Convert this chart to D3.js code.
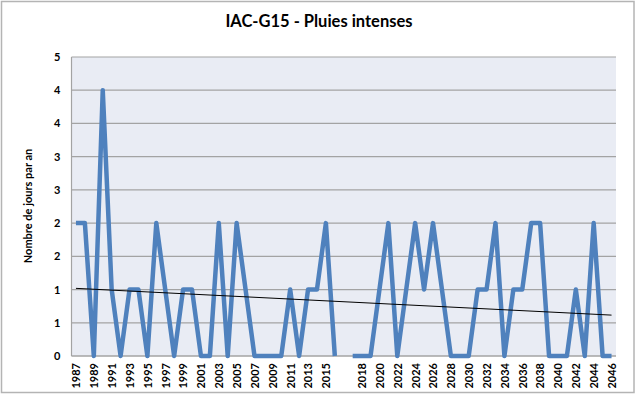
<!DOCTYPE html>
<html>
<head>
<meta charset="utf-8">
<script src="https://cdn.jsdelivr.net/npm/d3@7"></script>
<style>
  body { margin: 0; background: #fff; }
  text { font-family: Lato, "Open Sans", sans-serif; fill: #000; }
</style>
</head>
<body>
<div id="chart"></div>
<script>
// --- data ---
// categories as plotted (one blank slot between 2016 and 2017)
const years = [
  '1987','1988','1989','1990','1991','1992','1993','1994','1995','1996',
  '1997','1998','1999','2000','2001','2002','2003','2004','2005','2006',
  '2007','2008','2009','2010','2011','2012','2013','2014','2015','2016',
  '',
  '2017','2018','2019','2020','2021','2022','2023','2024','2025','2026',
  '2027','2028','2029','2030','2031','2032','2033','2034','2035','2036',
  '2037','2038','2039','2040','2041','2042','2043','2044','2045','2046'
];
const values = [
  2, 2, 0, 4, 1, 0, 1, 1, 0, 2,
  1, 0, 1, 1, 0, 0, 2, 0, 2, 1,
  0, 0, 0, 0, 1, 0, 1, 1, 2, 0,
  null,
  0, 0, 0, 1, 2, 0, 1, 2, 1, 2,
  1, 0, 0, 0, 1, 1, 2, 0, 1, 1,
  2, 2, 0, 0, 0, 1, 0, 2, 0, 0
];
const yTicks = [0, 0.5, 1, 1.5, 2, 2.5, 3, 3.5, 4, 4.5];
const yTickLabels = ['0', '1', '1', '2', '2', '3', '3', '4', '4', '5'];

const title = 'IAC-G15 - Pluies intenses';
const yTitle = 'Nombre de jours par an';

// --- sizing ---
const W = 640, H = 397;
const plot = { left: 71.5, right: 616, top: 57, bottom: 356 };

const svg = d3.select('#chart').append('svg')
  .attr('width', W)
  .attr('height', H);

// outer frame
svg.append('rect')
  .attr('x', 1.5).attr('y', 1.5)
  .attr('width', 632.5).attr('height', 391)
  .attr('fill', '#fff')
  .attr('stroke', '#b4b4b4')
  .attr('stroke-width', 1.5);

// --- scales ---
const idx = d3.range(years.length);
const x = d3.scalePoint()
  .domain(idx)
  .range([plot.left, plot.right])
  .padding(0.5);

const y = d3.scaleLinear()
  .domain([0, 4.5])
  .range([plot.bottom, plot.top]);

// plot background
svg.append('rect')
  .attr('x', plot.left).attr('y', plot.top)
  .attr('width', plot.right - plot.left)
  .attr('height', plot.bottom - plot.top)
  .attr('fill', '#e9ecf4');

// gridlines
svg.append('g')
  .attr('class', 'grid')
  .selectAll('line')
  .data(yTicks)
  .enter().append('line')
  .attr('x1', plot.left).attr('x2', plot.right)
  .attr('y1', d => y(d)).attr('y2', d => y(d))
  .attr('stroke', '#a3a3a3')
  .attr('stroke-width', 1.2);

// axis lines
svg.append('line')
  .attr('x1', plot.left).attr('x2', plot.left)
  .attr('y1', plot.top).attr('y2', plot.bottom)
  .attr('stroke', '#a3a3a3').attr('stroke-width', 1.2);
svg.append('line')
  .attr('x1', plot.left).attr('x2', plot.right)
  .attr('y1', plot.bottom).attr('y2', plot.bottom)
  .attr('stroke', '#a3a3a3').attr('stroke-width', 1.2);

// y axis labels
const yAxis = d3.axisLeft(y)
  .tickValues(yTicks)
  .tickSize(0)
  .tickPadding(11)
  .tickFormat((d, i) => yTickLabels[i]);

svg.append('g')
  .attr('class', 'axis axis--y')
  .attr('transform', `translate(${plot.left}, 0)`)
  .call(yAxis)
  .call(g => g.select('.domain').remove())
  .selectAll('text')
  .style('font-size', '11px')
  .style('font-weight', 'bold');

// x axis labels: every second category
const xAxis = d3.axisBottom(x)
  .tickValues(idx.filter(i => i % 2 === 0))
  .tickSize(0)
  .tickFormat(i => years[i]);

svg.append('g')
  .attr('class', 'axis axis--x')
  .attr('transform', `translate(0, ${plot.bottom})`)
  .call(xAxis)
  .call(g => g.select('.domain').remove())
  .selectAll('text')
  .attr('transform', 'rotate(-90)')
  .attr('x', -7)
  .attr('y', 0)
  .attr('dy', '0.35em')
  .style('text-anchor', 'end')
  .style('font-size', '11px')
  .style('font-weight', 'bold');

// --- series line ---
const pts = idx.map(i => ({ i: i, v: values[i] }));
const line = d3.line()
  .defined(d => d.v !== null)
  .x(d => x(d.i))
  .y(d => y(d.v));

svg.append('path')
  .datum(pts)
  .attr('fill', 'none')
  .attr('stroke', '#4f81bd')
  .attr('stroke-width', 4.5)
  .attr('stroke-linejoin', 'round')
  .attr('d', line);

// --- linear trendline (least squares over the plotted points) ---
const known = pts.filter(d => d.v !== null);
const mx = d3.mean(known, d => d.i);
const my = d3.mean(known, d => d.v);
const slope = d3.sum(known, d => (d.i - mx) * (d.v - my)) /
              d3.sum(known, d => (d.i - mx) * (d.i - mx));
const icpt = my - slope * mx;
const ends = [0, years.length - 1];

svg.append('line')
  .attr('x1', x(ends[0])).attr('y1', y(icpt + slope * ends[0]))
  .attr('x2', x(ends[1])).attr('y2', y(icpt + slope * ends[1]))
  .attr('stroke', '#000')
  .attr('stroke-width', 1);

// --- titles ---
svg.append('text')
  .attr('x', 319)
  .attr('y', 27)
  .attr('text-anchor', 'middle')
  .style('font-size', '16.5px')
  .style('font-weight', 'bold')
  .text(title);

svg.append('text')
  .attr('transform', `translate(28, 206) rotate(-90)`)
  .attr('text-anchor', 'middle')
  .attr('dy', '0.35em')
  .style('font-size', '11px')
  .style('font-weight', 'bold')
  .text(yTitle);
</script>
</body>
</html>
